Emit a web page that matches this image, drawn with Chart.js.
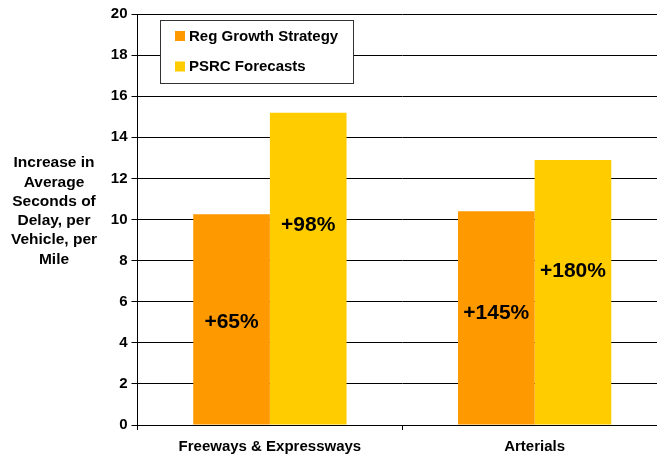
<!DOCTYPE html>
<html>
<head>
<meta charset="utf-8">
<script src="https://cdn.jsdelivr.net/npm/chart.js@4/dist/chart.umd.min.js"></script>
<style>
  html, body { margin: 0; padding: 0; background: #fff; overflow: hidden; }
  #wrap { position: relative; width: 667px; height: 456px; }
</style>
</head>
<body>
<div id="wrap"><canvas id="delay-chart"></canvas></div>
<script>
// Data
const categories = ['Freeways & Expressways', 'Arterials'];
const seriesNames = ['Reg Growth Strategy', 'PSRC Forecasts'];
const regGrowth = [10.25, 10.4];
const psrcForecasts = [15.2, 12.9];
const regGrowthPct = ['+65%', '+145%'];
const psrcPct = ['+98%', '+180%'];
const yTicks = [0, 2, 4, 6, 8, 10, 12, 14, 16, 18, 20];
const yTitle = ['Increase in', 'Average', 'Seconds of', 'Delay, per', 'Vehicle, per', 'Mile'];

const FONT = '"Liberation Sans", Arial, sans-serif';
const colors = ['#FF9900', '#FFCC00'];

// where the percentage sits inside each bar, in axis units
const pctAnchor = [[5.0, 5.45], [9.7, 7.5]];

// axis title, drawn flat to the left of the ticks
const titlePlugin = {
    id: 'flatTitle',
    afterDraw(chart) {
        const ctx = chart.ctx;
        ctx.save();
        ctx.font = 'bold 15.5px ' + FONT;
        ctx.fillStyle = '#000';
        ctx.textAlign = 'center';
        ctx.textBaseline = 'middle';
        yTitle.forEach((line, i) => {
            ctx.fillText(line, 54, 163 + i * 19.3);
        });
        ctx.restore();
    }
};

// boxed legend inside the plot
const legendPlugin = {
    id: 'boxLegend',
    afterDraw(chart) {
        const ctx = chart.ctx;
        ctx.save();
        ctx.fillStyle = '#fff';
        ctx.fillRect(160, 20, 193, 63);
        ctx.strokeStyle = '#333';
        ctx.lineWidth = 1;
        ctx.strokeRect(160.5, 20.5, 193, 63);
        ctx.font = 'bold 15px ' + FONT;
        ctx.textBaseline = 'middle';
        chart.data.datasets.forEach((ds, i) => {
            const cy = 36 + i * 30.5;
            ctx.fillStyle = ds.backgroundColor;
            ctx.fillRect(175, cy - 5, 10, 10);
            ctx.fillStyle = '#000';
            ctx.fillText(ds.label, 189, cy + 0.5);
        });
        ctx.restore();
    }
};

// percentage labels on the bars
const pctPlugin = {
    id: 'pctLabels',
    afterDatasetsDraw(chart) {
        const ctx = chart.ctx;
        const yScale = chart.scales.y;
        const texts = [regGrowthPct, psrcPct];
        ctx.save();
        ctx.font = 'bold 21px ' + FONT;
        ctx.fillStyle = '#000';
        ctx.textAlign = 'center';
        ctx.textBaseline = 'middle';
        chart.data.datasets.forEach((ds, d) => {
            chart.getDatasetMeta(d).data.forEach((bar, i) => {
                ctx.fillText(texts[d][i], bar.x, yScale.getPixelForValue(pctAnchor[d][i]));
            });
        });
        ctx.restore();
    }
};

new Chart(document.getElementById('delay-chart'), {
    type: 'bar',
    data: {
        labels: categories,
        datasets: [
            { label: seriesNames[0], data: regGrowth, backgroundColor: colors[0] },
            { label: seriesNames[1], data: psrcForecasts, backgroundColor: colors[1] }
        ]
    },
    options: {
        responsive: true,
        maintainAspectRatio: false,
        animation: false,
        layout: { padding: { top: 14, right: 0, bottom: 0, left: 0 } },
        datasets: { bar: { barPercentage: 1, categoryPercentage: 0.579 } },
        plugins: { legend: { display: false }, tooltip: { enabled: false } },
        scales: {
            x: {
                grid: { drawOnChartArea: false, drawTicks: true, tickLength: 5, color: '#000' },
                border: { color: '#000', width: 1 },
                ticks: { color: '#000', padding: 8, maxRotation: 0, font: { family: FONT, size: 15, weight: 'bold' } },
                afterFit(scale) { scale.height = 31; }
            },
            y: {
                min: 0,
                max: 20,
                afterBuildTicks(scale) { scale.ticks = yTicks.map(v => ({ value: v })); },
                grid: { color: '#000', tickLength: 6 },
                border: { color: '#000', width: 1 },
                ticks: { color: '#000', padding: 4, font: { family: FONT, size: 15, weight: 'bold' } },
                afterFit(scale) { scale.width = 137.5; }
            }
        }
    },
    plugins: [titlePlugin, legendPlugin, pctPlugin]
});
</script>
</body>
</html>
